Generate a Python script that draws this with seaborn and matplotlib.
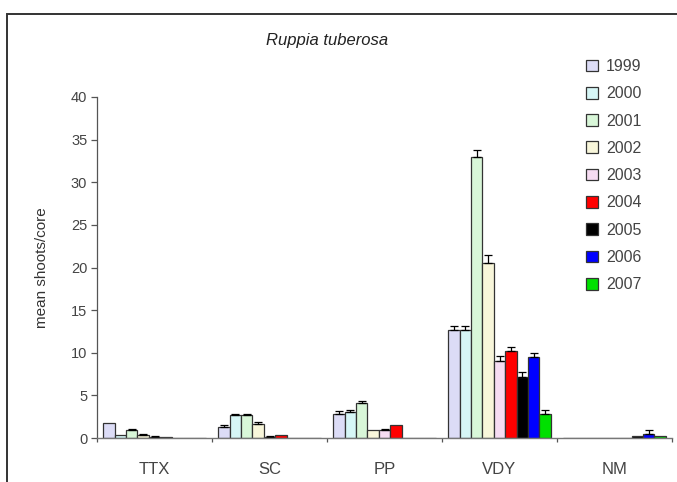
import numpy as np
import pandas as pd
import matplotlib
matplotlib.use("Agg")
import matplotlib.pyplot as plt
from matplotlib.patches import Patch, Rectangle
import seaborn as sns

sites = ["TTX", "SC", "PP", "VDY", "NM"]
years = ["1999", "2000", "2001", "2002", "2003", "2004", "2005", "2006", "2007"]

# mean shoots/core per year, values in site order
v1999 = [1.8, 1.3, 2.8, 12.7, 0.0]
v2000 = [0.4, 2.65, 3.1, 12.7, 0.0]
v2001 = [0.9, 2.65, 4.1, 33.0, 0.0]
v2002 = [0.35, 1.7, 0.9, 20.5, 0.0]
v2003 = [0.15, 0.1, 0.9, 9.0, 0.0]
v2004 = [0.1, 0.4, 1.5, 10.2, 0.0]
v2005 = [0.0, 0.0, 0.0, 7.1, 0.2]
v2006 = [0.0, 0.0, 0.0, 9.5, 0.5]
v2007 = [0.0, 0.0, 0.0, 2.8, 0.2]

# upper error bars
e1999 = [0.0, 0.2, 0.4, 0.4, 0.0]
e2000 = [0.0, 0.15, 0.2, 0.4, 0.0]
e2001 = [0.2, 0.15, 0.2, 0.8, 0.0]
e2002 = [0.15, 0.15, 0.0, 1.0, 0.0]
e2003 = [0.1, 0.1, 0.1, 0.6, 0.0]
e2004 = [0.0, 0.0, 0.0, 0.5, 0.0]
e2005 = [0.0, 0.0, 0.0, 0.6, 0.0]
e2006 = [0.0, 0.0, 0.0, 0.5, 0.4]
e2007 = [0.0, 0.0, 0.0, 0.5, 0.0]

values = [v1999, v2000, v2001, v2002, v2003, v2004, v2005, v2006, v2007]
errors = [e1999, e2000, e2001, e2002, e2003, e2004, e2005, e2006, e2007]

colors = ["#DCDCF6", "#D6F6F6", "#D8F6D8", "#F8F6DA", "#F6DCF2",
          "#FF0000", "#000000", "#0000FF", "#00E000"]

rows = []
for y, vals in zip(years, values):
    for s, v in zip(sites, vals):
        rows.append({"site": s, "year": y, "value": v})
df = pd.DataFrame(rows)

sns.set_theme(style="white")
plt.rcParams["font.family"] = ["Liberation Sans", "DejaVu Sans"]

fig = plt.figure(figsize=(6.77, 4.82), dpi=100)
ax = fig.add_axes([97/677, 1 - 438/482, (672 - 97)/677, (438 - 97)/482])

sns.barplot(data=df, x="site", y="value", hue="year", order=sites, hue_order=years,
            palette=colors, edgecolor="#333333", linewidth=0.9, width=0.89,
            saturation=1, errorbar=None, legend=False, ax=ax)

for cont, errs in zip(ax.containers, errors):
    for bar, e in zip(cont, errs):
        if e > 0:
            xc = bar.get_x() + bar.get_width() / 2
            h = bar.get_height()
            ax.errorbar([xc], [h], yerr=[[0], [e]], fmt="none", ecolor="black",
                        elinewidth=0.9, capsize=3, capthick=0.9)

ax.set_xlim(-0.5, 4.5)
ax.set_ylim(0, 40)
ax.set_yticks(range(0, 41, 5))
ax.set_xticks(range(5))
ax.set_xticklabels(sites)
ax.set_xlabel("")
ax.set_ylabel("mean shoots/core", fontsize=11, color="#333333", labelpad=16)

ax.tick_params(axis="y", which="both", left=True, length=4, width=0.9, color="#555555",
               labelsize=10.5, labelcolor="#444444", pad=3)
ax.tick_params(axis="x", bottom=False, labelsize=12, labelcolor="#444444", pad=11)
# minor ticks at group boundaries on x-axis
ax.set_xticks(np.arange(-0.5, 5.0, 1.0), minor=True)
ax.tick_params(axis="x", which="minor", bottom=True, length=3, width=0.9, color="#555555")

for sp in ["top", "right"]:
    ax.spines[sp].set_visible(False)
ax.spines["left"].set_color("#555555")
ax.spines["left"].set_linewidth(0.9)
ax.spines["bottom"].set_color("#777777")
ax.spines["bottom"].set_linewidth(1.0)

fig.text(327/677, 1 - 40/482, "Ruppia tuberosa", fontsize=12, style="italic",
         color="#222222", ha="center", va="center")

handles = [Patch(facecolor=c, edgecolor="#333333", linewidth=0.9) for c in colors]
fig.legend(handles, years, loc="upper left", bbox_to_anchor=(578/677, 1 - 51/482),
           frameon=False, fontsize=11.5, labelcolor="#444444", handlelength=0.75,
           handleheight=0.75, handletextpad=0.5, labelspacing=0.77, borderpad=0)

fig.patches.append(Rectangle((7/677, -0.1), 1.2, 1 - 14/482 + 0.1, transform=fig.transFigure,
                             fill=False, edgecolor="#333333", linewidth=1.4))

fig.savefig("out.png", dpi=100, facecolor="white")
